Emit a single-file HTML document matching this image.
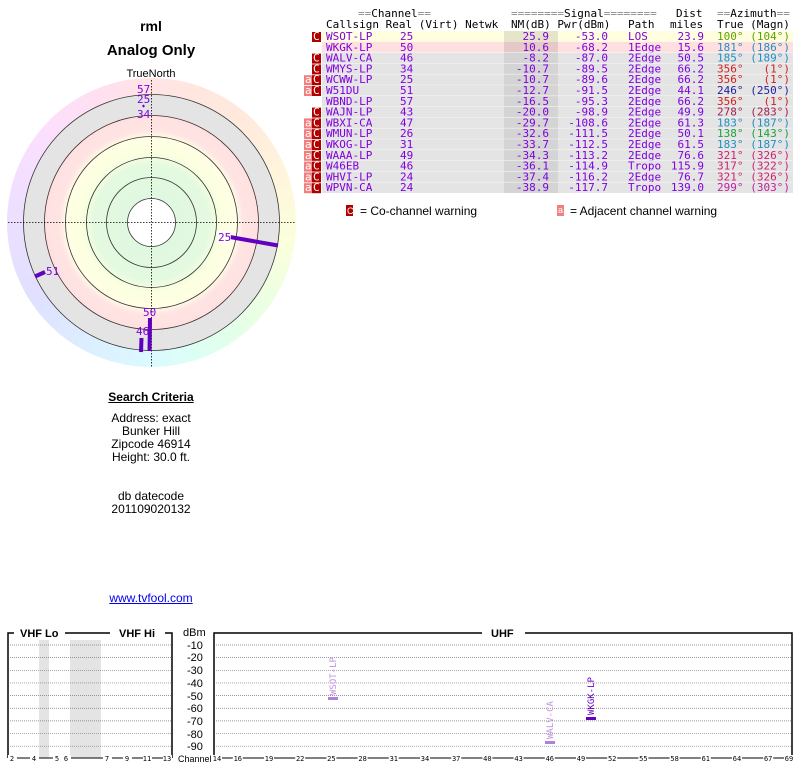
<!DOCTYPE html>
<html><head><meta charset="utf-8"><style>
body{margin:0;width:800px;height:768px;background:#fff;position:relative;overflow:hidden;font-family:"Liberation Sans",sans-serif}
.a{position:absolute}
.wheel{left:7px;top:78px;width:289px;height:289px;border-radius:50%;background:conic-gradient(#ffe4e4,#ffeadc 12%,#fff6dc 20%,#faffdc 27%,#e8ffe4 37%,#dcfff4 45%,#dcfaff 50%,#dceeff 58%,#e0e0ff 66%,#ecdfff 75%,#fadfff 85%,#ffdff2 93%,#ffe4e4)}
.mono{font-family:"DejaVu Sans Mono","Liberation Mono",monospace}
</style></head><body>
<div class="a" style="left:0;top:18px;width:302px;text-align:center;font-weight:bold;font-size:14px">rml</div>
<div class="a" style="left:0;top:42px;width:302px;text-align:center;font-weight:bold;font-size:15px">Analog Only</div>
<div class="a" style="left:0;top:68px;width:302px;text-align:center;font-size:11px">TrueNorth</div>
<div class="a wheel"></div>
<svg class="a" style="left:0;top:0;font-family:'Liberation Sans',sans-serif" width="800" height="768">
<defs><radialGradient id="rg" cx="151.5" cy="222.5" r="128" gradientUnits="userSpaceOnUse">
<stop offset="0.18" stop-color="#e0f8e0"/><stop offset="0.45" stop-color="#e4fae0"/><stop offset="0.55" stop-color="#fcffe0"/><stop offset="0.66" stop-color="#ffffe4"/><stop offset="0.72" stop-color="#ffe4e4"/><stop offset="0.84" stop-color="#ffe0e0"/><stop offset="0.845" stop-color="#e4e4e4"/><stop offset="1" stop-color="#e4e4e4"/></radialGradient></defs>
<circle cx="151.5" cy="222.5" r="128" fill="url(#rg)" stroke="#333" stroke-width="0.8"/>
<g fill="none" stroke="#333" stroke-width="0.8">
<circle cx="151.5" cy="222.5" r="107"/><circle cx="151.5" cy="222.5" r="86"/><circle cx="151.5" cy="222.5" r="65"/><circle cx="151.5" cy="222.5" r="45"/></g>
<circle cx="151.5" cy="222.5" r="24" fill="#fff" stroke="#333" stroke-width="0.8"/>
<g stroke="#000" stroke-width="0.8" stroke-dasharray="1.5,1.5"><line x1="8" y1="222.5" x2="296" y2="222.5"/><line x1="151.5" y1="80" x2="151.5" y2="367"/></g>
<g stroke="#6000c0" stroke-width="4"><line x1="230" y1="237" x2="278" y2="245.5"/><line x1="35" y1="276.5" x2="45" y2="272"/><line x1="150" y1="318" x2="149.5" y2="351"/><line x1="141.5" y1="338" x2="141" y2="352"/></g>
<line x1="143" y1="105" x2="144" y2="107" stroke="#6000c0" stroke-width="2"/>
<g fill="#8000e0" font-size="11" class="mono"><rect x="217" y="231" width="14" height="11" fill="#fff" opacity=".8"/><text x="218" y="241">25</text><text x="46" y="275">51</text><text x="143" y="316">50</text><text x="136" y="335">46</text><text x="137" y="93">57</text><text x="137" y="103">25</text><text x="137" y="118">34</text></g>

<g class="mono" font-size="11">
<text x="358" y="17" fill="#888">==<tspan fill="#000">Channel</tspan>==</text>
<text x="511" y="17" fill="#888">========<tspan fill="#000">Signal</tspan>========</text>
<text x="676" y="17">Dist</text>
<text x="717" y="17" fill="#888">==<tspan fill="#000">Azimuth</tspan>==</text>
<text x="326" y="28">Callsign Real (Virt) Netwk</text>
<text x="511" y="28">NM(dB) Pwr(dBm)</text><text x="628" y="28">Path</text><text x="670" y="28">miles</text><text x="717" y="28">True (Magn)</text>
</g>
<g id="rows"></g>
<g font-size="12"><rect x="346" y="205" width="7" height="11" fill="#b00000"/><text x="347" y="214" fill="#fff" font-size="9">C</text><text x="360" y="215">= Co-channel warning</text>
<rect x="557" y="205" width="7" height="11" fill="#f08080"/><text x="558" y="213" fill="#fff" font-size="9">a</text><text x="570" y="215">= Adjacent channel warning</text></g>

<g font-size="11" font-weight="bold"><text x="20" y="637">VHF Lo</text><text x="119" y="637">VHF Hi</text><text x="491" y="637">UHF</text></g>
<rect x="39" y="640" width="10" height="118" fill="#e4e4e4"/><rect x="70" y="640" width="31" height="118" fill="#e4e4e4"/>
<g fill="none" stroke="#000" stroke-width="1.5"><path d="M8,758 V633 H14 M65,633 H110 M165,633 H172 V758"/><path d="M214,758 V633 H482 M525,633 H792 V758"/></g>
<g stroke="#777" stroke-width="0.7" stroke-dasharray="1,1" id="grid"></g>
<g font-size="11" fill="#000"><text x="183" y="636">dBm</text>
<text x="187" y="649">-10</text><text x="187" y="661">-20</text><text x="187" y="674">-30</text><text x="187" y="687">-40</text><text x="187" y="700">-50</text><text x="187" y="712">-60</text><text x="187" y="725">-70</text><text x="187" y="738">-80</text><text x="187" y="750">-90</text>
<text x="178" y="762" font-size="9">Channel</text></g>
<g stroke="#000" stroke-width="1"><line x1="8" y1="758" x2="172" y2="758"/><line x1="214" y1="758" x2="792" y2="758"/></g>
<g font-size="7" fill="#000" id="chl" class="mono"></g>
<rect x="328" y="697" width="10" height="3" fill="#b080e0"/>
<rect x="545" y="741" width="10" height="3" fill="#b080e0"/>
<rect x="586" y="717" width="10" height="3" fill="#6000c0"/>
<g font-size="9" class="mono"><text transform="translate(336,695) rotate(-90)" fill="#c090e0">WSOT-LP</text><text transform="translate(553,739) rotate(-90)" fill="#c090e0">WALV-CA</text><text transform="translate(594,715) rotate(-90)" fill="#6000c0">WKGK-LP</text></g>
</svg>
<div class="a" style="left:0;top:391px;width:302px;text-align:center;font-size:12px;line-height:13px"><b style="text-decoration:underline">Search Criteria</b><br><div style="height:8px"></div>Address: exact<br>Bunker Hill<br>Zipcode 46914<br>Height: 30.0 ft.<br><br><br>db datecode<br>201109020132</div>
<div class="a" style="left:0;top:591px;width:302px;text-align:center;font-size:12px;color:#00e;text-decoration:underline">www.tvfool.com</div>
<script>
var R=[["WSOT-LP",25,"25.9","-53.0","LOS","23.9","100°","(104°)","#60a000","c",""],
["WKGK-LP",50,"10.6","-68.2","1Edge","15.6","181°","(186°)","#2090c0","",""],
["WALV-CA",46,"-8.2","-87.0","2Edge","50.5","185°","(189°)","#2090c0","c",""],
["WMYS-LP",34,"-10.7","-89.5","2Edge","66.2","356°","(1°)","#d02020","c",""],
["WCWW-LP",25,"-10.7","-89.6","2Edge","66.2","356°","(1°)","#d02020","c","a"],
["W51DU",51,"-12.7","-91.5","2Edge","44.1","246°","(250°)","#2020a0","c","a"],
["WBND-LP",57,"-16.5","-95.3","2Edge","66.2","356°","(1°)","#d02020","",""],
["WAJN-LP",43,"-20.0","-98.9","2Edge","49.9","278°","(283°)","#a02050","c",""],
["WBXI-CA",47,"-29.7","-108.6","2Edge","61.3","183°","(187°)","#2090c0","c","a"],
["WMUN-LP",26,"-32.6","-111.5","2Edge","50.1","138°","(143°)","#20a040","c","a"],
["WKOG-LP",31,"-33.7","-112.5","2Edge","61.5","183°","(187°)","#2090c0","c","a"],
["WAAA-LP",49,"-34.3","-113.2","2Edge","76.6","321°","(326°)","#d02070","c","a"],
["W46EB",46,"-36.1","-114.9","Tropo","115.9","317°","(322°)","#d02070","c","a"],
["WHVI-LP",24,"-37.4","-116.2","2Edge","76.7","321°","(326°)","#d02070","c","a"],
["WPVN-CA",24,"-38.9","-117.7","Tropo","139.0","299°","(303°)","#c020a0","c","a"]];
var s="";
var M='font-family="DejaVu Sans Mono,Liberation Mono,monospace" font-size="11"';
R.forEach(function(r,i){var y=31+i*10.8,b=y+9;
var bg=i==0?"#ffffe0":i==1?"#ffe0e0":"#e4e4e4";
s+='<rect x="322" y="'+y+'" width="471" height="10.8" fill="'+bg+'"/>';
s+='<rect x="504" y="'+y+'" width="54" height="10.8" fill="'+(i<2?"rgba(0,0,0,.1)":"#d4d4d4")+'"/>';
if(i>1)s+='<line x1="322" x2="793" y1="'+y+'" y2="'+y+'" stroke="#f4f4f4" stroke-width=".6"/>';
if(r[9])s+='<rect x="312" y="'+(y+1)+'" width="9" height="10" fill="#b00000"/><text x="313" y="'+b+'" fill="#fff" '+M+'>C</text>';
if(r[10])s+='<rect x="304" y="'+(y+1)+'" width="8" height="10" fill="#f08080"/><text x="305" y="'+b+'" fill="#fff" '+M+'>a</text>';
var f=M+' fill="#8000e0"';
s+='<text '+f+' x="326" y="'+b+'">'+r[0]+'</text><text '+f+' x="400" y="'+b+'">'+r[1]+'</text>';
s+='<text '+f+' x="549" y="'+b+'" text-anchor="end">'+r[2]+'</text><text '+f+' x="608" y="'+b+'" text-anchor="end">'+r[3]+'</text>';
s+='<text '+f+' x="628" y="'+b+'">'+r[4]+'</text><text '+f+' x="704" y="'+b+'" text-anchor="end">'+r[5]+'</text>';
s+='<text '+M+' fill="'+r[8]+'" x="717" y="'+b+'">'+r[6]+'</text><text '+M+' fill="'+r[8]+'" x="790" y="'+b+'" text-anchor="end">'+r[7]+'</text>';
});
document.getElementById("rows").innerHTML=s;
var g="";for(var k=0;k<9;k++){var y=645+k*12.65;g+='<line x1="10" x2="171" y1="'+y+'" y2="'+y+'"/><line x1="216" x2="791" y1="'+y+'" y2="'+y+'"/>';}
document.getElementById("grid").innerHTML=g;
var c="",v=[[2,12],[4,34],[5,57],[6,66],[7,107],[9,127],[11,147],[13,167]];
v.forEach(function(p){c+='<rect x="'+(p[1]-4)+'" y="755" width="9" height="7" fill="#fff"/><text x="'+p[1]+'" y="761" text-anchor="middle">'+p[0]+'</text>';});
[14,16,19,22,25,28,31,34,37,40,43,46,49,52,55,58,61,64,67,69].forEach(function(ch){var x=217+(ch-14)*10.4;c+='<rect x="'+(x-5)+'" y="755" width="10" height="7" fill="#fff"/><text x="'+x+'" y="761" text-anchor="middle">'+ch+'</text>';});
document.getElementById("chl").innerHTML=c;
</script>
</body></html>
